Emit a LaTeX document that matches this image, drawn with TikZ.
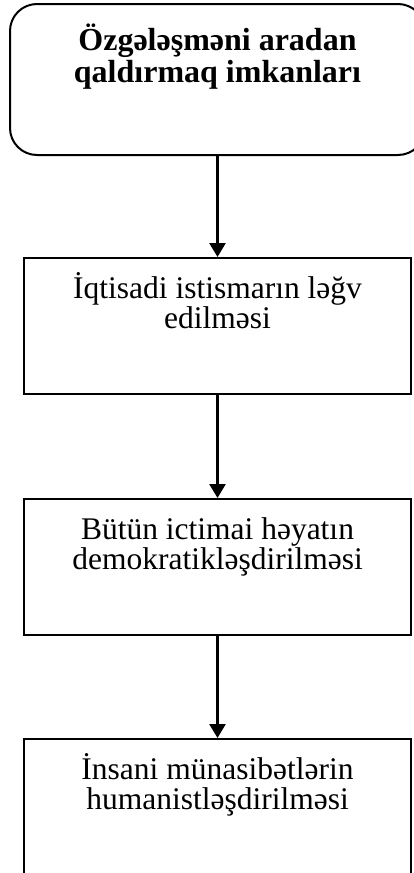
\documentclass[tikz,border=0pt]{standalone}
\usepackage{fontspec}
\setmainfont{Liberation Serif}
\usetikzlibrary{arrows.meta}
\begin{document}
\begin{tikzpicture}[x=1pt,y=1pt,
  boxstyle/.style={draw, line width=2pt, inner sep=0pt, minimum width=387pt, minimum height=136pt},
  topbox/.style={draw, line width=2pt, rounded corners=27pt, inner sep=0pt, minimum width=415pt, minimum height=151pt},
  txt/.style={inner sep=0pt, anchor=base, font=\fontsize{31.5}{30}\selectfont},
  toptxt/.style={inner sep=0pt, anchor=base, font=\fontsize{32}{32}\selectfont\bfseries},
  flow/.style={line width=2.6pt, -{Triangle[width=16pt,length=14pt]}}]
\useasboundingbox (0,0) rectangle (414,-873);
\clip (0,0) rectangle (414,-873);
\node[topbox] (top) at (217.5,-79.5) {};
\node[boxstyle] (b2) at (217.5,-326) {};
\node[boxstyle] (b3) at (217.5,-567) {};
\node[boxstyle] (b4) at (217.5,-807) {};
\node[toptxt] (t1) at (217.5,-50) {\parbox[t]{400pt}{\centering Özgələşməni aradan\\qaldırmaq imkanları}};
\node[txt] (t2) at (217.5,-298) {\parbox[t]{380pt}{\centering İqtisadi istismarın ləğv\\edilməsi}};
\node[txt] (t3) at (217.5,-539) {\parbox[t]{380pt}{\centering Bütün ictimai həyatın\\demokratikləşdirilməsi}};
\node[txt] (t4) at (217.5,-779) {\parbox[t]{380pt}{\centering İnsani münasibətlərin\\humanistləşdirilməsi}};
\draw[flow] (top.south) -- (b2.north);
\draw[flow] (b2.south) -- (b3.north);
\draw[flow] (b3.south) -- (b4.north);
\end{tikzpicture}
\end{document}
